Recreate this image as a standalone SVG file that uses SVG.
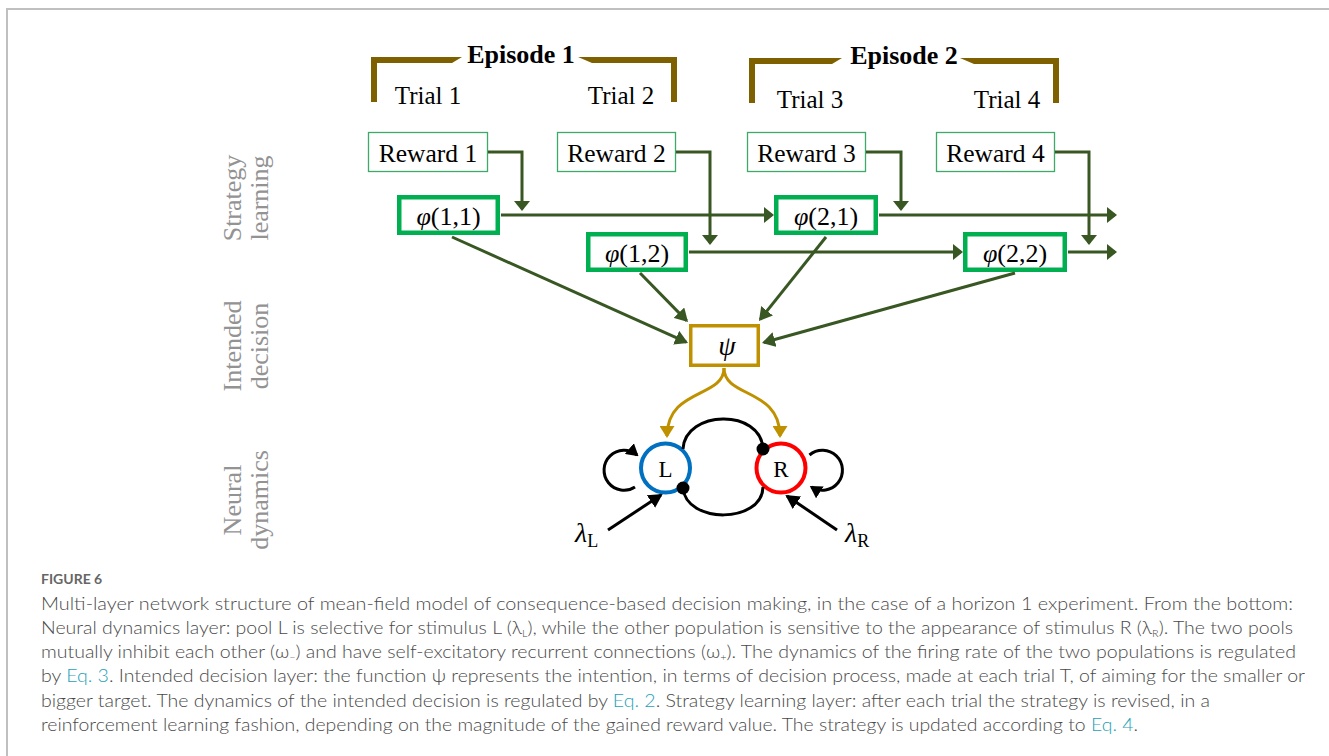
<svg xmlns="http://www.w3.org/2000/svg" width="1329" height="756" viewBox="0 0 1329 756">
<style>
.serif{font-family:"Liberation Serif","Times New Roman",serif;fill:#000}
.trial{font-size:25px}
.ep{font-size:26px;font-weight:bold}
.rew{fill:#fff;stroke:#3daa6a;stroke-width:1.3}
.phi{fill:#fff;stroke:#00b050;stroke-width:4.5}
.lbl{font-family:"Liberation Serif","Times New Roman",serif;font-size:26px;fill:#939393}
.g{fill:none;stroke:#385723;stroke-width:3}
.y{fill:none;stroke:#bf9000;stroke-width:3}
.k{fill:none;stroke:#000;stroke-width:3}
.cap{font-family:Lato,"Liberation Sans",sans-serif;font-size:18px;font-weight:300;fill:#4a4a4a}
.lnk{fill:#1fa2b8}
.brk{fill:#7f6000}
</style>
<defs>
<marker id="mG" viewBox="0 0 10 16" refX="8" refY="8" markerWidth="10" markerHeight="16" markerUnits="userSpaceOnUse" orient="auto"><path d="M0,0 L10,8 L0,16 z" fill="#385723"/></marker>
<marker id="mGd" viewBox="0 0 13 15" refX="11" refY="7.5" markerWidth="13" markerHeight="15" markerUnits="userSpaceOnUse" orient="auto"><path d="M0,0 L13,7.5 L0,15 z" fill="#385723"/></marker>
<marker id="mY" viewBox="0 0 12 15" refX="10" refY="7.5" markerWidth="12" markerHeight="15" markerUnits="userSpaceOnUse" orient="auto"><path d="M0,0 L12,7.5 L0,15 z" fill="#bf9000"/></marker>
<marker id="mK" viewBox="0 0 14 15" refX="12" refY="7.5" markerWidth="14" markerHeight="15" markerUnits="userSpaceOnUse" orient="auto"><path d="M0,0 L14,7.5 L0,15 z" fill="#000"/></marker>
<marker id="mKs" viewBox="0 0 12 14" refX="10" refY="7" markerWidth="12" markerHeight="14" markerUnits="userSpaceOnUse" orient="auto"><path d="M0,0 L12,7 L0,14 z" fill="#000"/></marker>
</defs>

<g id="frame" stroke="#c0c0c0" stroke-width="2" fill="none">
<path d="M7,756 V9 H1329"/>
</g>

<g id="episode1">
<polygon class="brk" points="371,102 371,57 462,57 452,63 377,63 377,102"/>
<polygon class="brk" points="578,57 677,57 677,102 671,102 671,63 592,63"/>
<text class="serif ep" x="521" y="63" text-anchor="middle">Episode 1</text>
<text class="serif trial" x="428" y="104" text-anchor="middle">Trial 1</text>
<text class="serif trial" x="621" y="104" text-anchor="middle">Trial 2</text>
</g>
<g id="episode2">
<polygon class="brk" points="749,103 749,58 842,58 832,64 755,64 755,103"/>
<polygon class="brk" points="960,58 1059,58 1059,103 1053,103 1053,64 974,64"/>
<text class="serif ep" x="904" y="64" text-anchor="middle">Episode 2</text>
<text class="serif trial" x="810" y="108" text-anchor="middle">Trial 3</text>
<text class="serif trial" x="1007" y="108" text-anchor="middle">Trial 4</text>
</g>

<g id="layer-labels">
<text class="lbl" transform="translate(241,198) rotate(-90)" text-anchor="middle">Strategy</text>
<text class="lbl" transform="translate(268,198) rotate(-90)" text-anchor="middle">learning</text>
<text class="lbl" transform="translate(241,346) rotate(-90)" text-anchor="middle">Intended</text>
<text class="lbl" transform="translate(268,346) rotate(-90)" text-anchor="middle">decision</text>
<text class="lbl" transform="translate(241,500) rotate(-90)" text-anchor="middle">Neural</text>
<text class="lbl" transform="translate(268,500) rotate(-90)" text-anchor="middle">dynamics</text>
</g>

<g id="reward1"><rect class="rew" x="368.5" y="132.5" width="119" height="39"/><text class="serif" font-size="25.5" x="428" y="162" text-anchor="middle">Reward 1</text></g>
<g id="reward2"><rect class="rew" x="557.5" y="132.5" width="118" height="39"/><text class="serif" font-size="25.5" x="616.5" y="162" text-anchor="middle">Reward 2</text></g>
<g id="reward3"><rect class="rew" x="747.5" y="132.5" width="118" height="39"/><text class="serif" font-size="25.5" x="806.5" y="162" text-anchor="middle">Reward 3</text></g>
<g id="reward4"><rect class="rew" x="936.5" y="132.5" width="118" height="39"/><text class="serif" font-size="25.5" x="995.5" y="162" text-anchor="middle">Reward 4</text></g>

<g id="phi11"><rect class="phi" x="399.25" y="197.25" width="98.5" height="35.5"/><text class="serif" font-size="26" x="448.5" y="225" text-anchor="middle"><tspan font-style="italic">φ</tspan>(1,1)</text></g>
<g id="phi12"><rect class="phi" x="588.25" y="234.25" width="97.5" height="35.5"/><text class="serif" font-size="26" x="637" y="262" text-anchor="middle"><tspan font-style="italic">φ</tspan>(1,2)</text></g>
<g id="phi21"><rect class="phi" x="776.25" y="197.25" width="99.5" height="35.5"/><text class="serif" font-size="26" x="826" y="225" text-anchor="middle"><tspan font-style="italic">φ</tspan>(2,1)</text></g>
<g id="phi22"><rect class="phi" x="965.25" y="234.25" width="99.5" height="35.5"/><text class="serif" font-size="26" x="1015" y="262" text-anchor="middle"><tspan font-style="italic">φ</tspan>(2,2)</text></g>

<g id="psi"><rect x="690.75" y="325.75" width="67.5" height="39.5" fill="#fff" stroke="#bf9000" stroke-width="3.5"/><text class="serif" font-size="28" font-style="italic" x="727" y="355" text-anchor="middle">ψ</text></g>

<g id="poolL"><circle cx="665.5" cy="468" r="24.5" fill="#fff" stroke="#0070c0" stroke-width="4"/><text class="serif" font-size="23" x="665.5" y="477" text-anchor="middle">L</text></g>
<g id="poolR"><circle cx="781" cy="468" r="24.5" fill="#fff" stroke="#ff0000" stroke-width="4"/><text class="serif" font-size="23" x="781" y="477" text-anchor="middle">R</text></g>

<g id="lambdaL"><text class="serif" font-size="28" x="575" y="542"><tspan font-style="italic">λ</tspan><tspan font-size="18" dy="5">L</tspan></text></g>
<g id="lambdaR"><text class="serif" font-size="28" x="845" y="542"><tspan font-style="italic">λ</tspan><tspan font-size="18" dy="5">R</tspan></text></g>

<g id="connectors">
<path class="g" marker-end="url(#mG)" d="M488,152 H522 V209"/>
<path class="g" marker-end="url(#mG)" d="M676,152 H710 V243"/>
<path class="g" marker-end="url(#mG)" d="M866,152 H901 V209"/>
<path class="g" marker-end="url(#mG)" d="M1055,152 H1089 V243"/>
<path class="g" marker-end="url(#mG)" d="M501,215 H772"/>
<path class="g" marker-end="url(#mG)" d="M879,215 H1115"/>
<path class="g" marker-end="url(#mG)" d="M689,252 H961"/>
<path class="g" marker-end="url(#mG)" d="M1068,252 H1115"/>
<path class="g" marker-end="url(#mGd)" d="M452,237 L686.2,342.2"/>
<path class="g" marker-end="url(#mGd)" d="M640,273 L686.6,320.6"/>
<path class="g" marker-end="url(#mGd)" d="M826,237 L760.2,319.4"/>
<path class="g" marker-end="url(#mGd)" d="M1015,273 L763.9,342.5"/>
<path class="y" marker-end="url(#mY)" d="M724,368 C724,398 667,388 667,436"/>
<path class="y" marker-end="url(#mY)" d="M724,368 C724,398 780,388 780,436"/>
<path class="k" d="M683,449 C685,410 761,408 763,449"/>
<path class="k" d="M763,487 C762,524 686,524 683,488"/>
<circle cx="763" cy="449" r="6.5" fill="#000"/>
<circle cx="683" cy="488" r="6.5" fill="#000"/>
<path class="k" marker-end="url(#mKs)" d="M635,487 A20,20 0 1 1 637,455"/>
<path class="k" marker-end="url(#mKs)" d="M809.5,455 A20,20 0 1 1 811.5,487"/>
<path class="k" marker-end="url(#mK)" d="M608,530 L661,495"/>
<path class="k" marker-end="url(#mK)" d="M837,530 L787,496"/>
</g>

<g id="caption">
<text x="41" y="584" font-family="Lato,'Liberation Sans',sans-serif" font-size="14" font-weight="bold" fill="#666">FIGURE 6</text>
<text class="cap" x="41" y="610" textLength="1252" lengthAdjust="spacingAndGlyphs">Multi-layer network structure of mean-field model of consequence-based decision making, in the case of a horizon 1 experiment. From the bottom:</text>
<text class="cap" x="41" y="634" textLength="1252" lengthAdjust="spacingAndGlyphs">Neural dynamics layer: pool L is selective for stimulus L (λ<tspan font-size="10" dy="3">L</tspan><tspan dy="-3">), while the other population is sensitive to the appearance of stimulus R (λ</tspan><tspan font-size="10" dy="3">R</tspan><tspan dy="-3">). The two pools</tspan></text>
<text class="cap" x="41" y="658" textLength="1255" lengthAdjust="spacingAndGlyphs">mutually inhibit each other (ω<tspan font-size="10" dy="3">−</tspan><tspan dy="-3">) and have self-excitatory recurrent connections (ω</tspan><tspan font-size="10" dy="3">+</tspan><tspan dy="-3">). The dynamics of the firing rate of the two populations is regulated</tspan></text>
<text class="cap" x="41" y="682" textLength="1264" lengthAdjust="spacingAndGlyphs">by <tspan class="lnk">Eq. 3</tspan>. Intended decision layer: the function ψ represents the intention, in terms of decision process, made at each trial T, of aiming for the smaller or</text>
<text class="cap" x="41" y="707" textLength="1169" lengthAdjust="spacingAndGlyphs">bigger target. The dynamics of the intended decision is regulated by <tspan class="lnk">Eq. 2</tspan>. Strategy learning layer: after each trial the strategy is revised, in a</text>
<text class="cap" x="41" y="731" textLength="1097" lengthAdjust="spacingAndGlyphs">reinforcement learning fashion, depending on the magnitude of the gained reward value. The strategy is updated according to <tspan class="lnk">Eq. 4</tspan>.</text>
</g>
</svg>
